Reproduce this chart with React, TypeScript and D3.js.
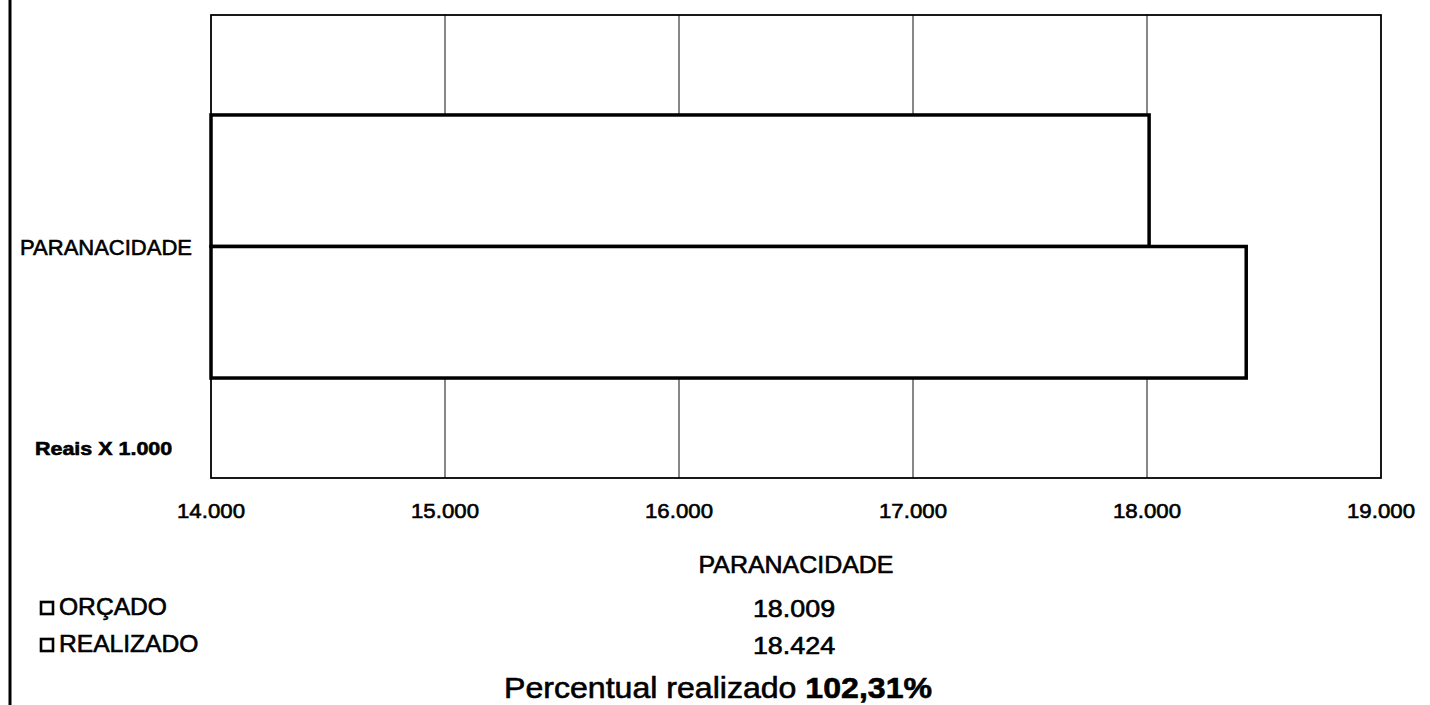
import React from "react";
import * as d3 from "d3";

const categories = ["PARANACIDADE"];
const seriesNames = ["ORÇADO", "REALIZADO"];
const orcado = [18009];
const realizado = [18424];
const xTicks = [14000, 15000, 16000, 17000, 18000, 19000];
const xDomain = [14000, 19000];
const unitLabel = "Reais X 1.000";
const percentLabel = "Percentual realizado ";
const percentValue = "102,31%";

const W = 1430;
const H = 705;
const FONT = "'Liberation Sans', Arial, Helvetica, sans-serif";

const locale = d3.formatLocale({ decimal: ",", thousands: ".", grouping: [3], currency: ["R$", ""] });
const fmt = locale.format(",d");

function T(props: any) {
  const { x, y, sx = 1, children, ...rest } = props;
  return (
    <text
      transform={`translate(${x},${y}) scale(${sx},1)`}
      fill="#000"
      stroke="#000"
      strokeWidth={0.6}
      {...rest}
    >
      {children}
    </text>
  );
}

export default function App() {
  const left = 211, right = 1381, top = 15, bottom = 478;
  const x = d3.scaleLinear().domain(xDomain).range([left, right]);
  const y = d3.scaleBand().domain(categories).range([top, bottom]).paddingInner(0).paddingOuter(0.38);
  const inner = d3.scaleBand().domain(seriesNames).range([0, y.bandwidth()]).padding(0);
  const series = [orcado, realizado];
  const tableX = (left + right) / 2;

  return (
    <svg width={W} height={H} style={{ position: "absolute", left: 0, top: 0, background: "#fff" }} fontFamily={FONT}>
      <rect x={0} y={0} width={W} height={H} fill="#fff" />
      {/* left page border */}
      <line x1={10} x2={10} y1={0} y2={H} stroke="#000" strokeWidth={3} />

      {/* gridlines */}
      {xTicks.slice(1, -1).map((t) => (
        <line key={t} x1={x(t)} x2={x(t)} y1={top} y2={bottom} stroke="#111" strokeWidth={1} />
      ))}

      {/* plot frame */}
      <rect x={left} y={top} width={right - left} height={bottom - top} fill="none" stroke="#000" strokeWidth={1.8} />

      {/* bars */}
      {categories.map((c, ci) =>
        seriesNames.map((s, si) => {
          const v = series[si][ci];
          const y0 = (y(c) as number) + (inner(s) as number);
          return (
            <rect
              key={c + s}
              x={x(xDomain[0])}
              y={y0}
              width={x(v) - x(xDomain[0])}
              height={inner.bandwidth()}
              fill="#fff"
              stroke="#000"
              strokeWidth={3.5}
            />
          );
        })
      )}

      {/* category label */}
      {categories.map((c) => (
        <T key={c} x={192} y={(y(c) as number) + y.bandwidth() / 2 + 8} textAnchor="end" fontSize={22}>
          {c}
        </T>
      ))}

      <T x={35} y={455} sx={1.13} fontSize={19} fontWeight="bold">{unitLabel}</T>

      {/* x tick labels */}
      {xTicks.map((t) => (
        <T key={t} x={x(t)} y={518} sx={1.06} textAnchor="middle" fontSize={21}>
          {fmt(t)}
        </T>
      ))}

      {/* data table */}
      {categories.map((c) => (
        <T key={"h" + c} x={tableX} y={573} sx={1.04} textAnchor="middle" fontSize={24}>{c}</T>
      ))}
      {seriesNames.map((s, si) => {
        const by = 615 + si * 37;
        return (
          <g key={s}>
            <rect x={41} y={by - 13} width={12} height={12} fill="#fff" stroke="#000" strokeWidth={2.6} />
            <T x={59} y={by} sx={1.07} fontSize={23}>{s}</T>
            {categories.map((c, ci) => (
              <T key={c} x={tableX - 2} y={by + 2} sx={1.12} textAnchor="middle" fontSize={24}>
                {fmt(series[si][ci])}
              </T>
            ))}
          </g>
        );
      })}

      <T x={718} y={698} sx={1.07} textAnchor="middle" fontSize={30}>
        {percentLabel}
        <tspan fontWeight="bold">{percentValue}</tspan>
      </T>
    </svg>
  );
}
